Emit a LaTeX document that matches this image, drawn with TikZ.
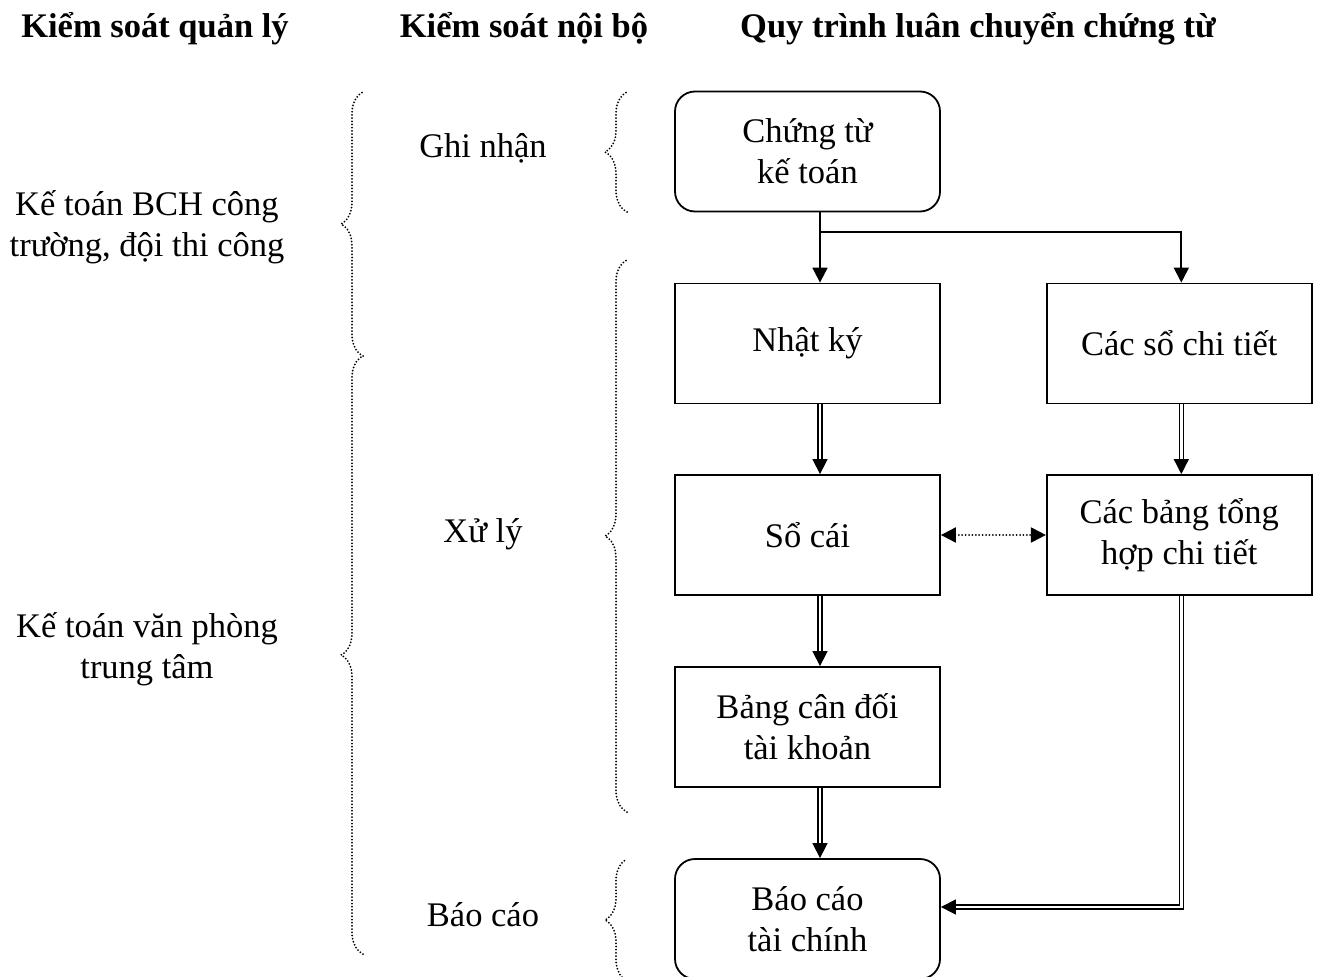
\documentclass[tikz,border=0pt]{standalone}
\usepackage{fontspec}
\setmainfont{Liberation Serif}
\usetikzlibrary{positioning,arrows.meta,decorations.pathreplacing}

\begin{document}
\begin{tikzpicture}[x=1pt,y=-1pt,
    every node/.style={font=\fontsize{34.5}{41}\selectfont, align=center},
    hdr/.style={font=\fontsize{34.5}{41}\selectfont\bfseries, anchor=base},
    box/.style={draw, line width=1.8pt, minimum width=265pt, minimum height=120pt, inner sep=2pt},
    rbox/.style={box, rounded corners=20pt},
    arr/.style={line width=1.8pt, -{Triangle[length=15pt,width=15pt]}},
    darr/.style={double, double distance=2.5pt, line width=1.4pt, -{Triangle[length=15pt,width=15pt]}},
    biarr/.style={line width=2pt, line cap=round, dash pattern=on 0pt off 3.4pt, {Triangle[length=15pt,width=15pt]}-{Triangle[length=15pt,width=15pt]}},
    brc/.style={decorate, decoration={brace,amplitude=22pt}, line width=2pt, line cap=round, dash pattern=on 0pt off 3.2pt}]
%      \draw[help lines] (0,0) grid[step=100] (1318,977);
      \useasboundingbox (0,0) rectangle (1318,977);

      \node[hdr] (qly) at (155,37) {Kiểm soát quản lý};
      \node[hdr] (nbo) at (524,37) {Kiểm soát nội bộ};
      \node[hdr] (qtr) at (978,37) {Quy trình luân chuyển chứng từ};

      \node (bch) at (147,227) {Kế toán BCH công\\trường, đội thi công};
      \node (vph) at (147,649) {Kế toán văn phòng\\trung tâm};

      \node[anchor=base] (ghi) at (483,157) {Ghi nhận};
      \node[anchor=base] (xly) at (483,542) {Xử lý};
      \node[anchor=base] (bcao) at (483,926) {Báo cáo};

      \draw[brc] (363,356) -- (363,92);
      \draw[brc] (363,954) -- (363,356);
      \draw[brc] (627,212) -- (627,92);
      \draw[brc] (627,812) -- (627,260);
      \draw[brc] (627,981) -- (627,859);

      \node[rbox] (cht) at (807.5,151.5) {Chứng từ\\kế toán};
      \node[box]  (nky) at (807.5,343.5) {Nhật ký};
      \node[box, right=105pt of nky] (sct) {Các sổ chi tiết};
      \node[box]  (scai) at (807.5,535) {Sổ cái};
      \node[box, right=105pt of scai] (bth) {Các bảng tổng\\hợp chi tiết};
      \node[box]  (bcd) at (807.5,727) {Bảng cân đối\\tài khoản};
      \node[rbox] (bctc) at (807.5,919) {Báo cáo\\tài chính};

      \coordinate (br) at (820,232);
      \draw[arr] ([xshift=12.5pt]cht.south) -- ([xshift=12.5pt]nky.north);
      \draw[arr] (br) -| ([xshift=2pt]sct.north);

      \draw[darr] ([xshift=12.5pt]nky.south) -- ([xshift=12.5pt]scai.north);
      \draw[darr] ([xshift=2pt]sct.south) -- ([xshift=2pt]bth.north);
      \draw[darr] ([xshift=12.5pt]scai.south) -- ([xshift=12.5pt]bcd.north);
      \draw[darr] ([xshift=12.5pt]bcd.south) -- ([xshift=12.5pt]bctc.north);
      \draw[darr] ([xshift=2pt]bth.south) |- ([yshift=12pt]bctc.east);

      \draw[biarr] (scai) -- (bth);
\end{tikzpicture}
\end{document}
